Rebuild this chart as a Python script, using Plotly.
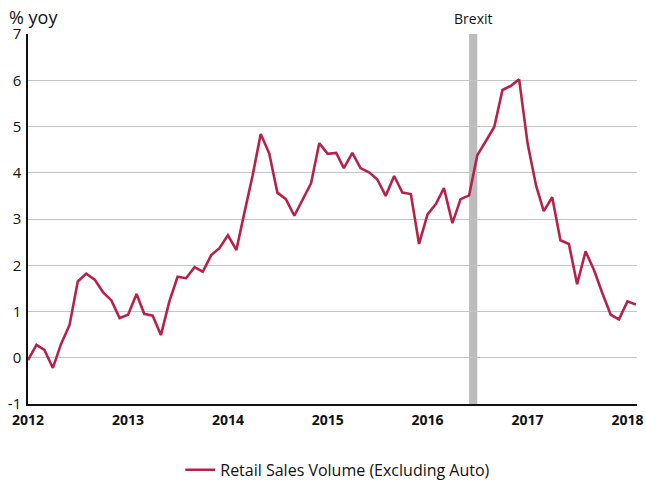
import plotly.graph_objects as go
import pandas as pd

dates = pd.date_range("2012-01-01", periods=74, freq="MS")
values = [
    -0.05, 0.28, 0.17, -0.22, 0.30, 0.71, 1.65, 1.82, 1.69, 1.42, 1.24, 0.86,
    0.93, 1.38, 0.95, 0.91, 0.49, 1.22, 1.75, 1.72, 1.96, 1.86, 2.22, 2.37,
    2.65, 2.33, 3.10, 3.93, 4.84, 4.42, 3.57, 3.43, 3.07, 3.43, 3.77, 4.64,
    4.41, 4.43, 4.10, 4.43, 4.10, 4.01, 3.86, 3.50, 3.93, 3.57, 3.54, 2.46,
    3.10, 3.33, 3.67, 2.91, 3.43, 3.51, 4.38, 4.68, 4.99, 5.79, 5.88, 6.02,
    4.63, 3.72, 3.17, 3.47, 2.54, 2.46, 1.59, 2.30, 1.89, 1.40, 0.93, 0.83,
    1.22, 1.15,
]
series_name = "Retail Sales Volume (Excluding Auto)"
brexit_start = "2016-06-01"
brexit_end = "2016-07-01"
year_ticks = ["2012-01-01", "2013-01-01", "2014-01-01", "2015-01-01",
              "2016-01-01", "2017-01-01", "2018-01-01"]
year_labels = ["2012", "2013", "2014", "2015", "2016", "2017", "2018"]
y_ticks = [-1, 0, 1, 2, 3, 4, 5, 6, 7]

FONT = "Open Sans"
fig = go.Figure()
fig.add_vrect(x0=brexit_start, x1=brexit_end, fillcolor="#bcbcbc",
              line_width=0, layer="below", opacity=1)
fig.add_trace(go.Scatter(x=dates, y=values, mode="lines", name=series_name,
                         line=dict(color="#b5234b", width=2.6)))

fig.add_annotation(x=pd.Timestamp("2016-06-15"), y=1, xref="x", yref="paper",
                   text="Brexit", showarrow=False, yanchor="bottom", yshift=4,
                   font=dict(family=FONT, size=14, color="#111"))
fig.add_annotation(x=0, y=1, xref="paper", yref="paper", text="% yoy",
                   showarrow=False, xanchor="left", yanchor="bottom",
                   xshift=-21, yshift=3, font=dict(family=FONT, size=18, color="#111"))

fig.update_layout(
    width=646, height=486,
    margin=dict(l=28, r=9, t=34, b=82, autoexpand=False),
    plot_bgcolor="white", paper_bgcolor="white",
    font=dict(family=FONT, size=14, color="#111"),
    showlegend=True, hovermode=False,
    legend=dict(orientation="h", x=0.25, xanchor="left", y=-0.178, yanchor="middle",
                font=dict(family=FONT, size=16, color="#111")),
    xaxis=dict(type="date", range=["2012-01-01", "2018-02-05"], automargin=False,
               tickvals=year_ticks, ticktext=[f"<b>{t}</b>" for t in year_labels],
               showgrid=False, showline=True, linecolor="#111", linewidth=1.5,
               ticks="", zeroline=False, tickfont=dict(size=14), ticklabelstandoff=2),
    yaxis=dict(range=[-1, 7], tickvals=y_ticks, ticktext=[str(v) for v in y_ticks],
               showgrid=True, gridcolor="#c4c4c4",
               gridwidth=1, showline=True, linecolor="#111", linewidth=1.5,
               automargin=False, zeroline=False, ticks="", tickfont=dict(size=15),
               ticklabelstandoff=2),
)
fig.write_html(
    "out.html",
    config={"displayModeBar": False},
    post_script=(
        "document.documentElement.style.overflow='hidden';"
        "document.body.style.margin='0';"
        "document.body.style.overflow='hidden';"
    ),
)
